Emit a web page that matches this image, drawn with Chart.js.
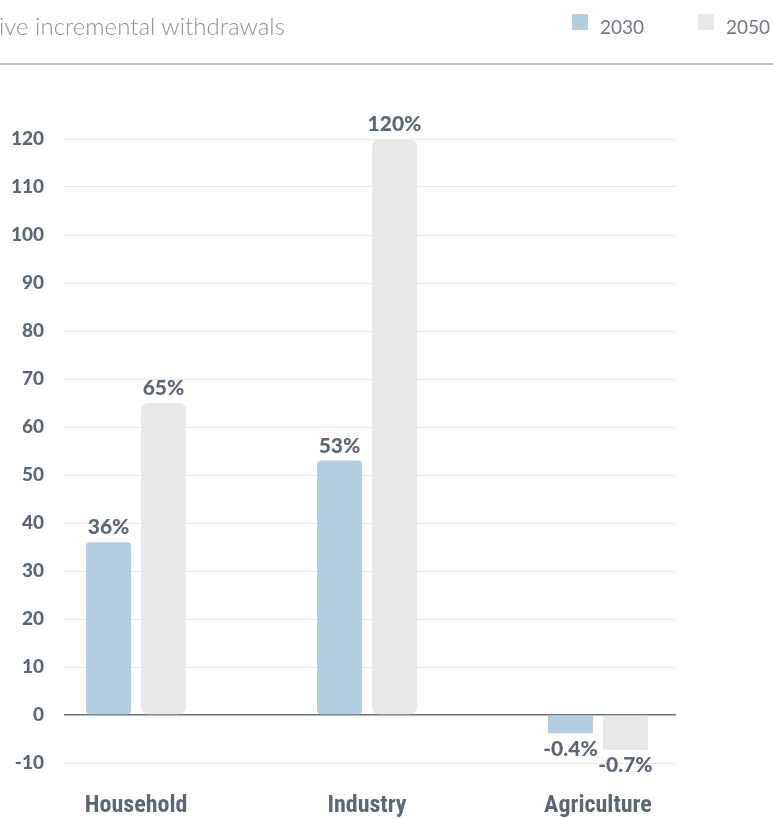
<!DOCTYPE html>
<html>
<head>
<meta charset="utf-8">
<script src="https://cdn.jsdelivr.net/npm/chart.js@4.4.1/dist/chart.umd.min.js"></script>
<style>
  body{margin:0;background:#fff;}
  #wrap{position:relative;width:773px;height:819px;overflow:hidden;}
  #chart{position:absolute;left:0;top:0;}
  .title{position:absolute;left:-1px;top:11px;font-family:Lato,sans-serif;font-weight:300;font-size:24px;color:#8a929c;white-space:nowrap;}
  .legend{position:absolute;top:12px;left:572px;font-family:Lato,sans-serif;font-size:19px;color:#6f7884;}
  .legend span.item{position:absolute;top:0;white-space:nowrap;}
  .legend i{position:absolute;top:2px;left:0;width:16px;height:16px;}
  .legend b{position:absolute;left:28px;top:3px;font-weight:400;}
  .rule{position:absolute;left:0;top:63px;width:773px;height:2px;background:#b9bdc1;}
</style>
</head>
<body>
<div id="wrap">
  <canvas id="chart" width="773" height="819"></canvas>
  <div class="title">ive incremental withdrawals</div>
  <div class="legend" id="legend"></div>
  <div class="rule"></div>
</div>
<script>

const categories = ['Household','Industry','Agriculture']
const seriesNames = ['2030','2050']
const seriesColors = ['#b3cde1','#e8e8e8']

// bar heights
const values2030 = [36, 53, -3.8]
const values2050 = [65, 120, -7.3]

// printed labels on the bars
const labels2030 = ['36%','53%','-0.4%']
const labels2050 = ['65%','120%','-0.7%']

const textColor = '#5c6776'


// html legend, right of the title
let legend = document.getElementById('legend')
seriesNames.forEach((name,i)=>{
  let item = document.createElement('span')
  item.className = 'item'
  item.style.left = (i*126)+'px'
  item.innerHTML = '<i style="background:'+seriesColors[i]+'"></i><b>'+name+'</b>'
  legend.appendChild(item)
})


const barLabels = {
  id:'barLabels',
  afterDatasetsDraw(chart){
    const ctx = chart.ctx
    ctx.save()
    ctx.fillStyle = textColor
    ctx.font = '900 21px Lato, sans-serif'
    ctx.textAlign = 'center'
    chart.data.datasets.forEach((ds,di)=>{
      const meta = chart.getDatasetMeta(di)
      meta.data.forEach((bar,i)=>{
        const val = ds.data[i].y
        if(val >= 0){
          ctx.textBaseline = 'alphabetic'
          ctx.fillText(ds.valueLabels[i], bar.x, bar.y - 8)
        } else {
          ctx.textBaseline = 'top'
          ctx.fillText(ds.valueLabels[i], bar.x, bar.y + 5)
        }
      })
    })
    ctx.restore()
  }
}


function makeSet(name, values, lbls, color, radius){
  return {
    label:name,
    data: values.map((v,i)=>({x:i, y:v})),
    valueLabels: lbls,
    backgroundColor: color,
    borderSkipped: false,
    borderRadius: (c)=> (c.raw && c.raw.y < 0) ? 0 : radius,
    categoryPercentage: 0.476,
    barPercentage: 0.818
  }
}


new Chart(
  document.getElementById('chart'),
  {
    type:'bar',
    data:{
      datasets:[
        makeSet(seriesNames[0], values2030, labels2030, seriesColors[0], 4),
        makeSet(seriesNames[1], values2050, labels2050, seriesColors[1], 7)
      ]
    },
    options:{
      responsive:false,
      animation:false,
      layout:{
        padding:{ top:139, right:97, bottom:0, left:0 }
      },
      plugins:{
        legend:{ display:false },
        tooltip:{ enabled:false }
      },
      scales:{
        x:{
          type:'linear',
          offset:false,
          min:-0.312,
          max:2.338,
          afterBuildTicks:(s)=>{ s.ticks = categories.map((c,i)=>({value:i})) },
          afterFit:(s)=>{ s.height = 56 },
          grid:{ display:false, drawTicks:false },
          border:{ display:false },
          ticks:{
            padding:29,
            maxRotation:0,
            color:textColor,
            font:{ family:'"Roboto Condensed", Roboto, sans-serif', size:24, weight:'bold' },
            callback:(v)=> categories[v]
          }
        },
        y:{
          min:-10,
          max:120,
          afterFit:(s)=>{ s.width = 64 },
          grid:{
            drawTicks:false,
            color:(c)=> c.tick && c.tick.value === 0 ? '#69727e' : '#e3eaf1',
            lineWidth:(c)=> c.tick && c.tick.value === 0 ? 1.5 : 1
          },
          border:{ display:false },
          ticks:{
            stepSize:10,
            padding:20,
            color:textColor,
            font:{ family:'Lato, sans-serif', size:19, weight:'900' }
          }
        }
      }
    },
    plugins:[barLabels]
  }
)

</script>
</body>
</html>
